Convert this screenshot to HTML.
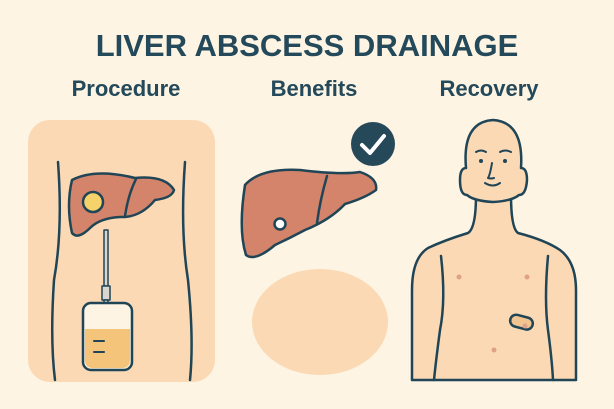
<!DOCTYPE html><html><head><style>body{margin:0;background:#fdf4e3}svg{display:block}text{font-family:"Liberation Sans",sans-serif;font-weight:bold;fill:#23495a;text-anchor:middle}</style></head><body>
<svg width="614" height="409" viewBox="0 0 614 409">
<rect width="614" height="409" fill="#fdf4e3"/>
<text x="307" y="56" font-size="31">LIVER ABSCESS DRAINAGE</text>
<text x="126" y="96" font-size="22">Procedure</text>
<text x="314" y="96" font-size="22">Benefits</text>
<text x="489" y="96" font-size="22">Recovery</text>
<g stroke="#1f4556" stroke-width="2.5" fill="none" stroke-linecap="round" stroke-linejoin="round">
<rect x="28" y="120" width="187" height="262" rx="22" fill="#fbd9b5" stroke="none"/>
<path d="M58 162 Q63 230 54 280 Q50 340 55 380"/>
<path d="M185 162 Q180 230 188 280 Q194 340 190 380"/>
<path d="M72 180 Q95 168 135 178 Q165 175 174 190 Q172 198 155 200 Q140 218 120 217 Q100 218 90 228 Q78 240 72 233 Q66 205 72 180Z" fill="#d3846a"/>
<path d="M136 179 Q128 195 125 216"/>
<circle cx="93" cy="202" r="10" fill="#f5d36a"/>
<rect x="104" y="230" width="4" height="56" fill="#d9d6d0" stroke-width="1.5"/>
<rect x="102" y="286" width="8" height="14" fill="#d9d6d0" stroke-width="1.5"/>
<rect x="104" y="300" width="4" height="6" fill="#d9d6d0" stroke-width="1.5"/>
<rect x="83" y="303" width="49" height="67" rx="8" fill="#fdf4e3"/>
<path d="M85 329 H130 V360 Q130 368 122 368 H93 Q85 368 85 360Z" fill="#f4c47b" stroke="none"/>
<path d="M94 341 H104 M94 352 H104" stroke-width="2"/>
<ellipse cx="320" cy="322" rx="68" ry="53" fill="#fbd9b5" stroke="none"/>
<circle cx="373" cy="144" r="22" fill="#26495a" stroke="none"/>
<path d="M362 145 L370 153 L384 136" stroke="#fff" stroke-width="4"/>
<path d="M245 185 Q260 168 300 170 Q340 175 360 172 Q378 178 376 190 Q365 198 345 204 Q330 220 305 230 Q290 238 275 245 Q255 262 246 255 Q238 230 245 185Z" fill="#d3846a"/>
<path d="M327 176 Q320 200 317 223"/>
<circle cx="280" cy="224" r="5.5" fill="#fff"/>
<path d="M412 380 V290 Q412 258 428 248 Q445 240 468 233 Q476 228 476 195 L511 195 Q511 228 518 233 Q545 240 560 250 Q576 262 576 290 V380 Z" fill="#fbd9b5"/>
<path d="M467 195 Q460 195 460 180 Q460 168 466 168 Q462 122 493 120 Q524 122 521 168 Q527 168 527 180 Q526 195 519 195 Q512 201 493 202 Q474 201 467 195Z" fill="#fbd9b5"/>
<path d="M441 256 Q446 300 440 330 Q436 360 434 380"/>
<path d="M548 256 Q544 300 548 330 Q552 360 553 380"/>
<path d="M476 152 Q481 149 486 152 M500 152 Q505 149 511 152" stroke-width="2"/>
<circle cx="481" cy="161" r="2" fill="#1f4556" stroke="none"/>
<circle cx="505" cy="161" r="2" fill="#1f4556" stroke="none"/>
<path d="M492 163 Q490 175 488 178 Q491 179 494 178" stroke-width="2"/>
<path d="M485 183 Q493 188 500 183" stroke-width="2"/>
<rect x="510" y="316" width="23" height="12" rx="6" transform="rotate(15 521 322)" fill="#f2c490"/>
</g>
<g fill="#e0a08a"><circle cx="459" cy="277" r="2.5"/><circle cx="527" cy="277" r="2.5"/><circle cx="525" cy="326" r="2.5"/><circle cx="494" cy="350" r="2.5"/></g>
</svg></body></html>
